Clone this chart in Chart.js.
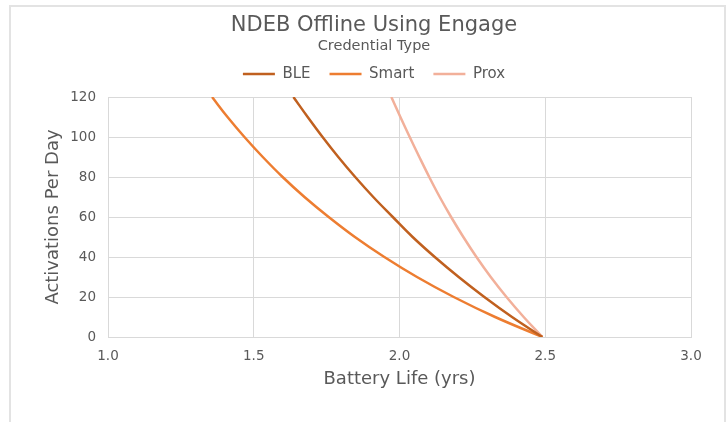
<!DOCTYPE html>
<html>
<head>
<meta charset="utf-8">
<script src="https://cdn.jsdelivr.net/npm/chart.js@4/dist/chart.umd.min.js"></script>
<style>
  html, body { margin: 0; padding: 0; background: #fff; }
  #frame { position: absolute; left: 9px; top: 5px; width: 713px; height: 430px;
           border: 2px solid #e3e3e3; border-bottom: none; }
  #wrap { position: absolute; left: 0; top: 0; width: 728px; height: 422px; }
</style>
</head>
<body>
<div id="frame"></div>
<div id="wrap"><canvas id="chart-area" width="728" height="422"></canvas></div>
<script>
// activations per day (y) and battery life in years (x) for each credential
let activations = [0, 10, 20, 30, 40, 50, 60, 70, 80, 90, 100, 110, 120];
let bleLife   = [2.49, 2.386, 2.291, 2.203, 2.121, 2.045, 1.977, 1.910, 1.848, 1.790, 1.736, 1.685, 1.636];
let smartLife = [2.49, 2.328, 2.186, 2.060, 1.948, 1.847, 1.757, 1.674, 1.599, 1.531, 1.468, 1.410, 1.357];
let proxLife  = [2.49, 2.426, 2.367, 2.313, 2.264, 2.219, 2.177, 2.138, 2.102, 2.068, 2.035, 2.003, 1.972];
let seriesNames = ['BLE', 'Smart', 'Prox'];
let xTicks = [1.0, 1.5, 2.0, 2.5, 3.0];
let yTicks = [0, 20, 40, 60, 80, 100, 120];

let textColor = '#595959';
let fontFamily = '"DejaVu Sans", sans-serif';

function toPoints(life) {
  return life.map(function (x, i) { return { x: x, y: activations[i] }; });
}

function lineSet(label, life, color) {
  return {
    label: label,
    data: toPoints(life),
    borderColor: color,
    backgroundColor: color,
    borderWidth: 2.5,
    showLine: true,
    pointRadius: 0,
    tension: 0.4
  };
}

var ctx = document.getElementById('chart-area').getContext('2d');
var chart = new Chart(ctx, {
  type: 'scatter',
  data: {
    datasets: [
      lineSet(seriesNames[0], bleLife, '#C0601F'),
      lineSet(seriesNames[1], smartLife, '#ED7D31'),
      lineSet(seriesNames[2], proxLife, '#F2B09A')
    ]
  },
  options: {
    responsive: false,
    animation: false,
    layout: { padding: { left: 57, right: 37, top: 0, bottom: 0 } },
    plugins: {
      tooltip: { enabled: false },
      title: {
        display: true,
        text: 'NDEB Offline Using Engage',
        color: textColor,
        font: { family: fontFamily, size: 21, weight: 'normal' },
        padding: { top: 13, bottom: 0 }
      },
      legend: {
        display: true,
        title: {
          display: true,
          text: 'Credential Type',
          color: textColor,
          font: { family: fontFamily, size: 14.5 },
          padding: { top: 1, bottom: -9 }
        },
        labels: {
          color: textColor,
          font: { family: fontFamily, size: 15 },
          boxWidth: 32,
          boxHeight: 0,
          padding: 19
        }
      },
      // empty subtitle used only as a small gap under the legend
      subtitle: {
        display: true,
        text: '',
        weight: 500,
        font: { size: 4.5 },
        padding: 0
      }
    },
    scales: {
      x: {
        type: 'linear',
        min: 1,
        max: 3,
        afterFit: function (s) { s.height = 85; },
        afterBuildTicks: function (s) { s.ticks = xTicks.map(function (v) { return { value: v }; }); },
        grid: { color: '#d9d9d9', drawTicks: false },
        border: { color: '#d9d9d9' },
        ticks: {
          color: textColor,
          font: { family: fontFamily, size: 13.5 },
          padding: 11,
          callback: function (v) { return Number(v).toFixed(1); }
        },
        title: {
          display: true,
          text: 'Battery Life (yrs)',
          color: textColor,
          font: { family: fontFamily, size: 18 },
          padding: { top: 0, bottom: 32 }
        }
      },
      y: {
        min: 0,
        max: 120,
        afterFit: function (s) { s.width = 51; },
        afterBuildTicks: function (s) { s.ticks = yTicks.map(function (v) { return { value: v }; }); },
        grid: { color: '#d9d9d9', drawTicks: false },
        border: { color: '#d9d9d9' },
        ticks: {
          color: textColor,
          font: { family: fontFamily, size: 13.5 },
          padding: 12
        },
        title: {
          display: true,
          text: 'Activations Per Day',
          color: textColor,
          font: { family: fontFamily, size: 18 },
          padding: { top: -14.5, bottom: 0 }
        }
      }
    }
  }
});
</script>
</body>
</html>
